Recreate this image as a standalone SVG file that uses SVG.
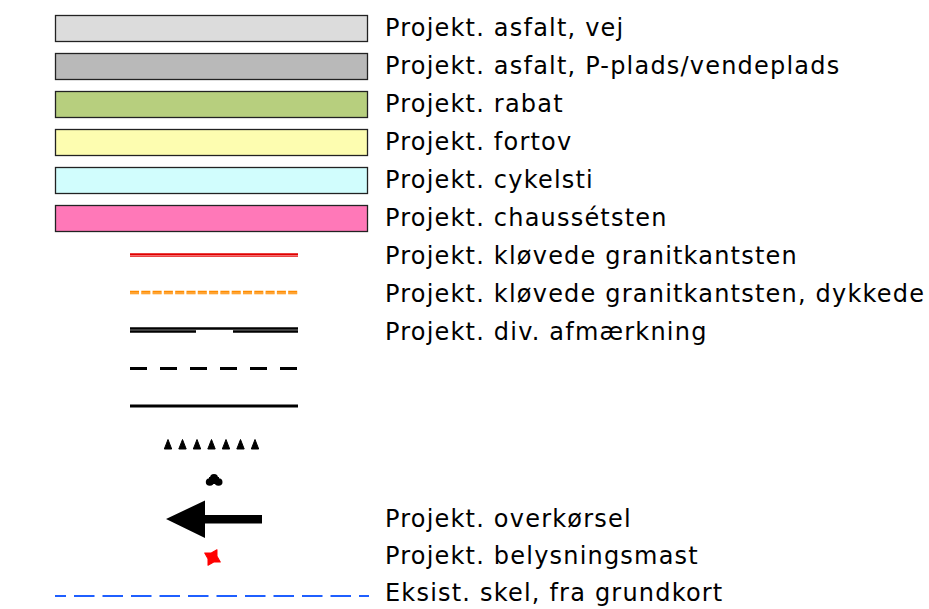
<svg xmlns="http://www.w3.org/2000/svg" width="929" height="609" viewBox="0 0 929 609">
<style>
.lbl{font-family:"DejaVu Sans",Verdana,sans-serif;font-size:24px;letter-spacing:1.2px;fill:#000}
.sw{stroke:#222;stroke-width:1.3}
</style>
<rect width="929" height="609" fill="#fff"/>
<g id="swatches">
<g id="n1"><rect class="sw" x="55.5" y="15.5" width="312" height="26" fill="#dcdcdc"/></g>
<g id="n2"><rect class="sw" x="55.5" y="53.5" width="312" height="26" fill="#b9b9b9"/></g>
<g id="n3"><rect class="sw" x="55.5" y="91.5" width="312" height="26" fill="#b7cf7e"/></g>
<g id="n4"><rect class="sw" x="55.5" y="129.5" width="312" height="26" fill="#fdfdb0"/></g>
<g id="n5"><rect class="sw" x="55.5" y="167.5" width="312" height="26" fill="#d1fdfd"/></g>
<g id="n6"><rect class="sw" x="55.5" y="205.5" width="312" height="26" fill="#ff78b8"/></g>
</g>
<g id="connectors">
<g id="red-line"><line x1="130" y1="255" x2="298" y2="255" stroke="#e00000" stroke-width="3.6"/><line x1="130" y1="255.6" x2="298" y2="255.6" stroke="#ffb0b0" stroke-width="0.7"/></g>
<g id="orange-line"><line x1="130" y1="292.5" x2="298" y2="292.5" stroke="#ff8c00" stroke-width="3.6" stroke-dasharray="9 2.3"/><line x1="130" y1="293" x2="298" y2="293" stroke="#ffd090" stroke-width="0.7" stroke-dasharray="9 2.3"/></g>
<g id="div-line"><line x1="130" y1="328.5" x2="298" y2="328.5" stroke="#000" stroke-width="2.6"/><line x1="130" y1="331.5" x2="196" y2="331.5" stroke="#000" stroke-width="2.4"/><line x1="233" y1="331.5" x2="298" y2="331.5" stroke="#000" stroke-width="2.4"/></g>
<g id="dash-line"><line x1="130" y1="368.5" x2="298" y2="368.5" stroke="#000" stroke-width="2.8" stroke-dasharray="17 13"/></g>
<g id="solid-line"><line x1="130" y1="406" x2="298" y2="406" stroke="#000" stroke-width="2.8"/></g>
<g id="triangles" fill="#000" stroke="#000" stroke-width="1" stroke-linejoin="round">
<path d="M164.3 449 L168 439.5 L171.7 449Z M178.8 449 L182.5 439.5 L186.2 449Z M193.3 449 L197 439.5 L200.7 449Z M207.8 449 L211.5 439.5 L215.2 449Z M222.3 449 L226 439.5 L229.7 449Z M236.8 449 L240.5 439.5 L244.2 449Z M251.3 449 L255 439.5 L258.7 449Z"/>
</g>
<g id="blob" fill="#000">
<ellipse cx="209.8" cy="482" rx="4" ry="3.8"/><ellipse cx="218.5" cy="482" rx="4" ry="3.8"/><ellipse cx="214" cy="477.8" rx="4" ry="3.8"/><rect x="209" y="477" width="10" height="7"/>
</g>
<g id="arrow" fill="#000">
<path d="M166 519 L205 500.5 L205 515 L262 515 L262 523.5 L205 523.5 L205 538 Z"/>
</g>
<g id="star" fill="#ff0000" stroke="#ff0000" stroke-width="1" stroke-linejoin="round">
<path d="M212.5 548.5 L215.8 554.2 L221.5 557.5 L215.8 560.8 L212.5 566.5 L209.2 560.8 L203.5 557.5 L209.2 554.2 Z" transform="rotate(30 212.5 557.5)"/>
</g>
<g id="blue-line"><line x1="55" y1="596" x2="369" y2="596" stroke="#1f5fff" stroke-width="2.2" stroke-dasharray="11 8 20.5 8 20.5 8 20.5 8 20.5 8 20.5 8 20.5 8 20.5 8 20.5 8 20.5 8 20.5 8 20.5 8 12"/></g>
</g>
<g id="labels">
<text class="lbl" x="385" y="36">Projekt. asfalt, vej</text>
<text class="lbl" x="385" y="74">Projekt. asfalt, P-plads/vendeplads</text>
<text class="lbl" x="385" y="112">Projekt. rabat</text>
<text class="lbl" x="385" y="150">Projekt. fortov</text>
<text class="lbl" x="385" y="188">Projekt. cykelsti</text>
<text class="lbl" x="385" y="226">Projekt. chaussétsten</text>
<text class="lbl" x="385" y="264">Projekt. kløvede granitkantsten</text>
<text class="lbl" x="385" y="302">Projekt. kløvede granitkantsten, dykkede</text>
<text class="lbl" x="385" y="340">Projekt. div. afmærkning</text>
<text class="lbl" x="385" y="527">Projekt. overkørsel</text>
<text class="lbl" x="385" y="564">Projekt. belysningsmast</text>
<text class="lbl" x="385" y="601">Eksist. skel, fra grundkort</text>
</g>
</svg>
